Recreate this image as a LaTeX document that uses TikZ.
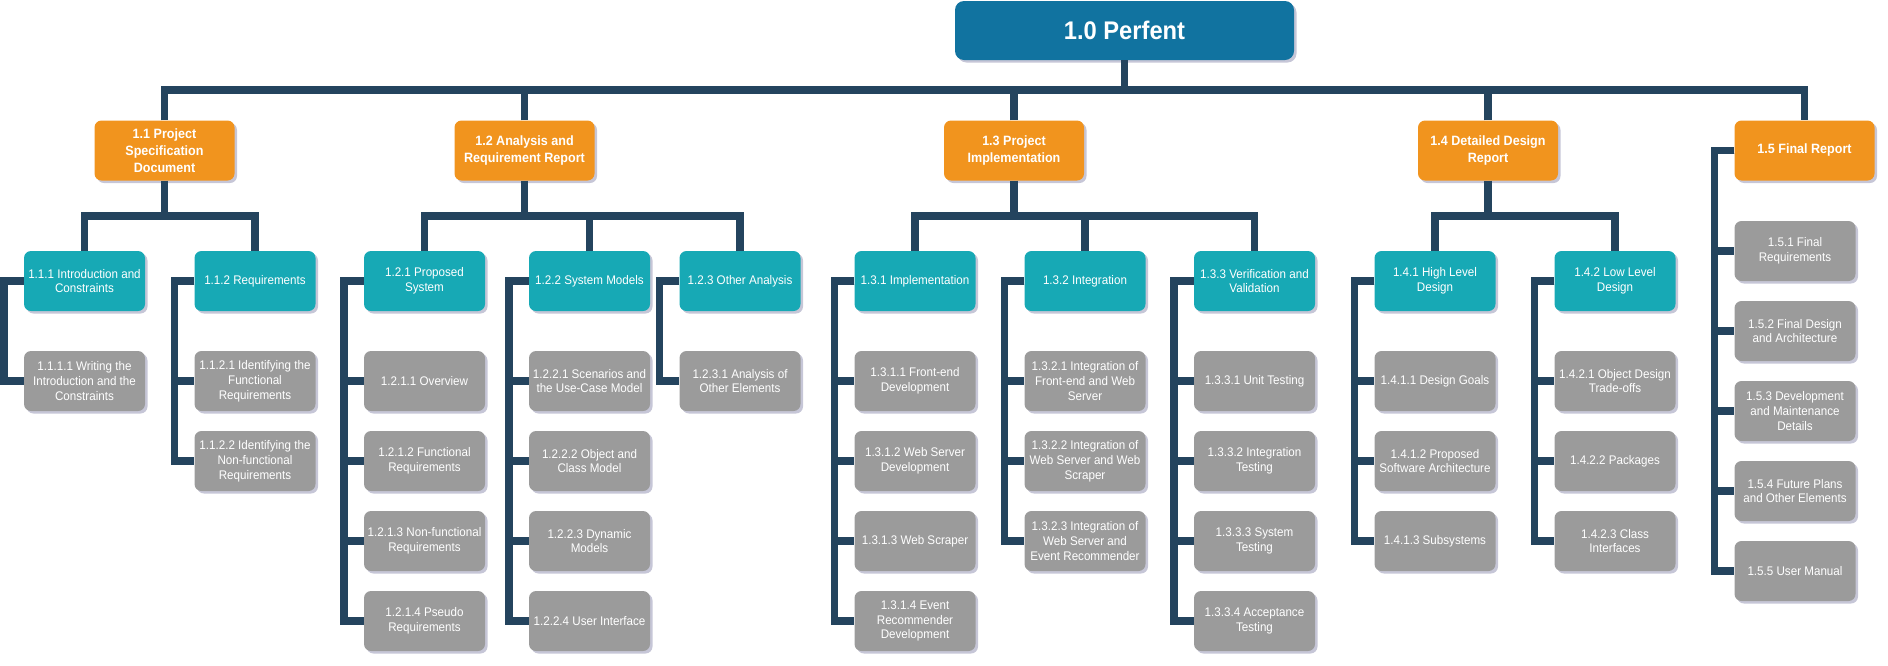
\documentclass[tikz,border=0pt]{standalone}
\usepackage{fontspec}
\setmainfont{Liberation Sans}[FakeStretch=0.93]
\usetikzlibrary{positioning,shadows}

\definecolor{rootblue}{RGB}{17,115,160}
\definecolor{phaseorange}{RGB}{241,148,30}
\definecolor{taskteal}{RGB}{23,169,181}
\definecolor{leafgray}{RGB}{155,155,155}
\definecolor{wirenavy}{RGB}{36,68,94}
\definecolor{shadelav}{RGB}{160,160,188}

\tikzset{
  box/.style={rounded corners=7pt, text=white, align=center, inner sep=0pt,
    minimum width=121pt, minimum height=60pt,
    drop shadow={shadow xshift=2.5pt, shadow yshift=-2.5pt, fill=shadelav, opacity=0.6}},
  rootbox/.style={box, fill=rootblue, minimum width=339pt, minimum height=59pt,
    rounded corners=9pt, font=\fontsize{25.5}{30}\selectfont\bfseries},
  phasebox/.style={box, fill=phaseorange, minimum width=140pt,
    font=\fontsize{13.5}{16.8}\selectfont\bfseries},
  taskbox/.style={box, fill=taskteal, font=\fontsize{12.5}{14.8}\selectfont},
  leafbox/.style={box, fill=leafgray, font=\fontsize{12.5}{14.8}\selectfont},
  wire/.style={draw=wirenavy, line width=7.5pt}
}

\begin{document}
\begin{tikzpicture}[x=1pt, y=-1pt]

\useasboundingbox (0,0) rectangle (1888,665);

% --- Root ---
\node[rootbox] (root) at (1124.5,30.5) {1.0 Perfent};

% --- Phases ---
\foreach \nodename/\xpos/\lbl in {
    p11/164.5/{1.1 Project\\Specification\\Document},
    p12/524.5/{1.2 Analysis and\\Requirement Report},
    p13/1014/{1.3 Project\\Implementation},
    p14/1488/{1.4 Detailed Design\\Report},
    p15/1804.5/{1.5 Final Report}} {
    \node[phasebox] (\nodename) at (\xpos,150.5) {\lbl};
}

% --- Tasks ---
\foreach \nodename/\xpos/\lbl in {
    t111/84.5/{1.1.1 Introduction and\\Constraints},
    t112/255/{1.1.2 Requirements},
    t121/424.5/{1.2.1 Proposed\\System},
    t122/589.5/{1.2.2 System Models},
    t123/740/{1.2.3 Other Analysis},
    t131/915/{1.3.1 Implementation},
    t132/1085/{1.3.2 Integration},
    t133/1254.5/{1.3.3 Verification and\\Validation},
    t141/1435/{1.4.1 High Level\\Design},
    t142/1615/{1.4.2 Low Level\\Design}} {
    \node[taskbox] (\nodename) at (\xpos,281) {\lbl};
}

% --- Root to phases ---
\draw[wire] (root.south) -- ++(0,30) coordinate (topbus);
\draw[wire] (p11.north) -- (p11.north |- topbus) -- (p15.north |- topbus) -- (p15.north);
\foreach \up in {p12,p13,p14} {
    \draw[wire] (\up.north) -- (\up.north |- topbus);
}

% --- Phases to tasks ---
\foreach \up/\lo/\hi in {p11/t111/t112, p12/t121/t123, p13/t131/t133, p14/t141/t142} {
    \draw[wire] (\up.south) -- ++(0,35.5) coordinate (midbus);
    \draw[wire] (\lo.north) -- (\lo.north |- midbus) -- (\hi.north |- midbus) -- (\hi.north);
}
\foreach \mid in {t122,t132} {
    \draw[wire] (\mid.north) -- ++(0,-35);
}

% --- Work packages, each hooked to its parent from the left ---
\foreach \nodename/\up/\xpos/\ypos/\lbl in {
    l1111/t111/84.5/381/{1.1.1.1 Writing the\\Introduction and the\\Constraints},
    l1121/t112/255/381/{1.1.2.1 Identifying the\\Functional\\Requirements},
    l1122/t112/255/461/{1.1.2.2 Identifying the\\Non-functional\\Requirements},
    l1211/t121/424.5/381/{1.2.1.1 Overview},
    l1212/t121/424.5/461/{1.2.1.2 Functional\\Requirements},
    l1213/t121/424.5/541/{1.2.1.3 Non-functional\\Requirements},
    l1214/t121/424.5/621/{1.2.1.4 Pseudo\\Requirements},
    l1221/t122/589.5/381/{1.2.2.1 Scenarios and\\the Use-Case Model},
    l1222/t122/589.5/461/{1.2.2.2 Object and\\Class Model},
    l1223/t122/589.5/541/{1.2.2.3 Dynamic\\Models},
    l1224/t122/589.5/621/{1.2.2.4 User Interface},
    l1231/t123/740/381/{1.2.3.1 Analysis of\\Other Elements},
    l1311/t131/915/381/{1.3.1.1 Front-end\\Development},
    l1312/t131/915/461/{1.3.1.2 Web Server\\Development},
    l1313/t131/915/541/{1.3.1.3 Web Scraper},
    l1314/t131/915/621/{1.3.1.4 Event\\Recommender\\Development},
    l1321/t132/1085/381/{1.3.2.1 Integration of\\Front-end and Web\\Server},
    l1322/t132/1085/461/{1.3.2.2 Integration of\\Web Server and Web\\Scraper},
    l1323/t132/1085/541/{1.3.2.3 Integration of\\Web Server and\\Event Recommender},
    l1331/t133/1254.5/381/{1.3.3.1 Unit Testing},
    l1332/t133/1254.5/461/{1.3.3.2 Integration\\Testing},
    l1333/t133/1254.5/541/{1.3.3.3 System\\Testing},
    l1334/t133/1254.5/621/{1.3.3.4 Acceptance\\Testing},
    l1411/t141/1435/381/{1.4.1.1 Design Goals},
    l1412/t141/1435/461/{1.4.1.2 Proposed\\Software Architecture},
    l1413/t141/1435/541/{1.4.1.3 Subsystems},
    l1421/t142/1615/381/{1.4.2.1 Object Design\\Trade-offs},
    l1422/t142/1615/461/{1.4.2.2 Packages},
    l1423/t142/1615/541/{1.4.2.3 Class\\Interfaces},
    l151/p15/1795/251/{1.5.1 Final\\Requirements},
    l152/p15/1795/331/{1.5.2 Final Design\\and Architecture},
    l153/p15/1795/411/{1.5.3 Development\\and Maintenance\\Details},
    l154/p15/1795/491/{1.5.4 Future Plans\\and Other Elements},
    l155/p15/1795/571/{1.5.5 User Manual}} {
    \node[leafbox] (\nodename) at (\xpos,\ypos) {\lbl};
    \draw[wire] (\up.west) -- ++(-20,0) |- (\nodename.west);
}

\end{tikzpicture}
\end{document}
